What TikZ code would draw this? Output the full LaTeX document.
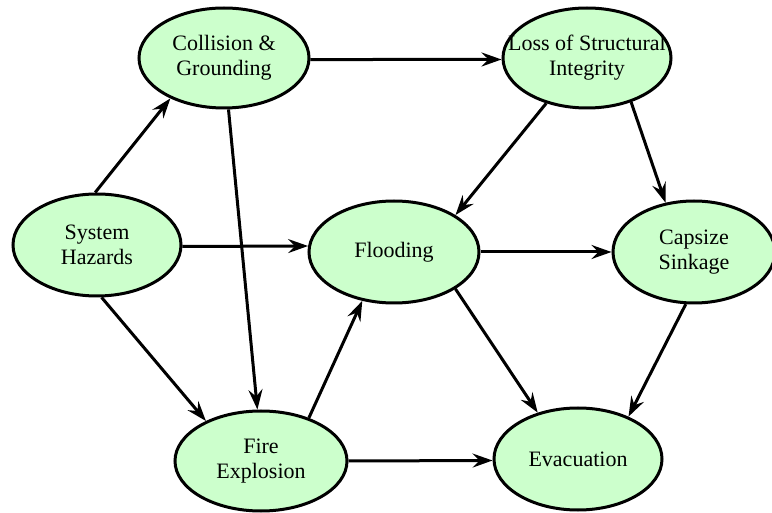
\documentclass[tikz,border=0pt]{standalone}
\usepackage{fontspec}
\setmainfont{Liberation Serif}
\usetikzlibrary{arrows.meta,shapes.geometric}
\definecolor{nodegreen}{HTML}{CCFFCC}
\begin{document}
\begin{tikzpicture}[x=1pt,y=-1pt,
  hazard/.style={ellipse, draw=black, line width=3pt, fill=nodegreen, inner sep=0pt},
  caption/.style={align=center, inner sep=0pt, font=\fontsize{22}{25}\selectfont},
  link/.style={line width=3pt, -{Stealth[length=20pt,width=14pt,inset=7pt]}}]
\useasboundingbox[fill=white] (0,0) rectangle (772,513);

% event nodes
\node[hazard, minimum width=168pt, minimum height=102pt,
      label={[caption]center:System\\Hazards}] (sh) at (97,245) {};
\node[hazard, minimum width=170pt, minimum height=100pt,
      label={[caption]center:Collision \&\\Grounding}] (cg) at (224,58) {};
\node[hazard, minimum width=168pt, minimum height=100pt,
      label={[caption]center:Loss of Structural\\Integrity}] (loss) at (587,58) {};
\node[hazard, minimum width=170pt, minimum height=102pt,
      label={[caption]center:Flooding}] (fl) at (394,252) {};
\node[hazard, minimum width=162pt, minimum height=102pt,
      label={[caption]center:Capsize\\Sinkage}] (cs) at (694,252) {};
\node[hazard, minimum width=172pt, minimum height=100pt,
      label={[caption]center:Fire\\Explosion}] (fe) at (261,461) {};
\node[hazard, minimum width=168pt, minimum height=102pt,
      label={[caption]center:Evacuation}] (ev) at (578,459) {};

% causal links
\draw[link] (sh.92) -- (cg.217);
\draw[link] (sh.-1.5) -- (fl.176.5);
\draw[link] (sh.-85) -- (fe.144.5);
\draw[link] (cg.-1.4) -- (loss.181.4);
\draw[link] (cg.-85.8) -- (fe.94.4);
\draw[link] (loss.228) -- (fl.31.4);
\draw[link] (loss.-45) -- (cs.120.8);
\draw[link] (fl.-0.5) -- (cs.180.7);
\draw[link] (fl.-31.4) -- (ev.131.7);
\draw[link] (cs.261.6) -- (ev.40.9);
\draw[link] (fe.42.5) -- (fl.237.7);
\draw[link] (fe.0) -- (ev.181.3);
\end{tikzpicture}
\end{document}
